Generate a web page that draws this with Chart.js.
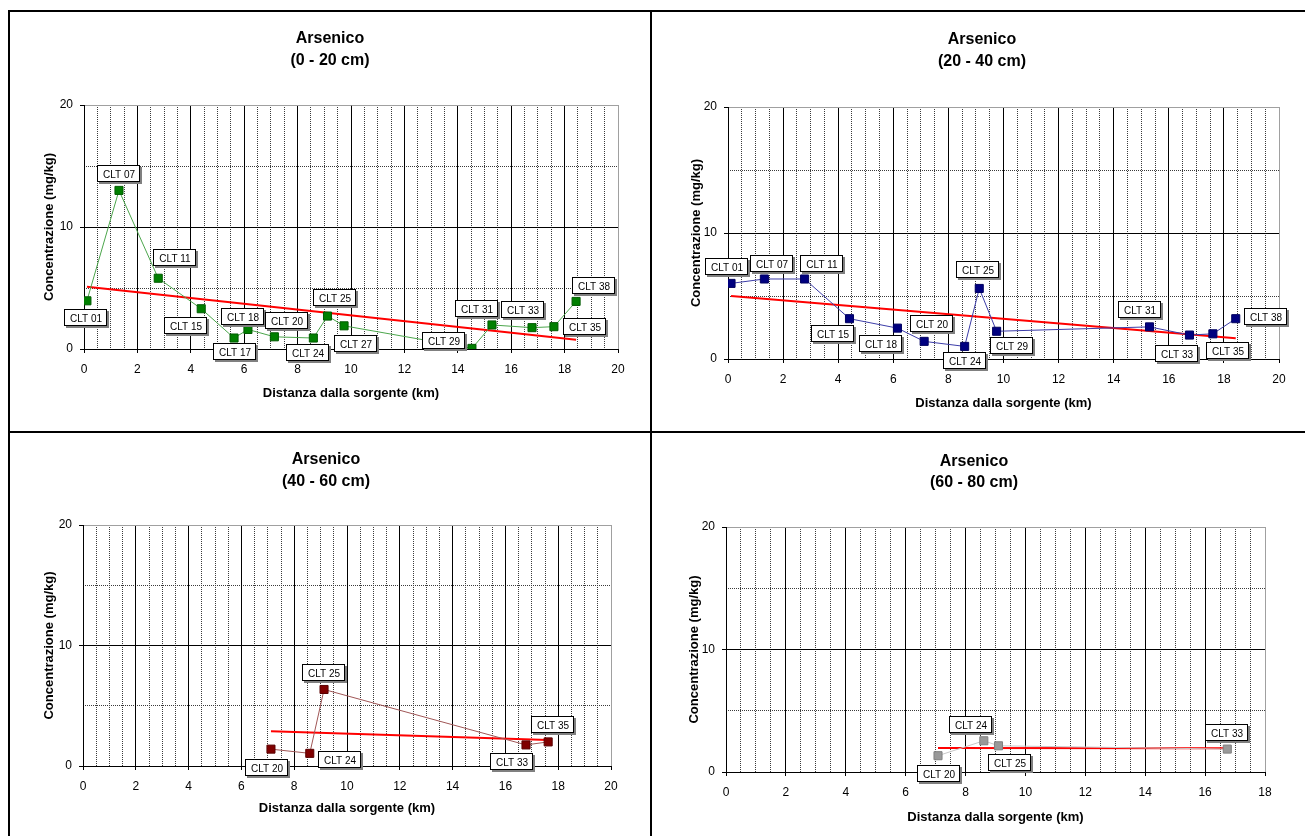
<!DOCTYPE html>
<html>
<head>
<meta charset="utf-8">
<title>Arsenico - concentrazione vs distanza</title>
<style>
  body { margin: 0; background: #fff; }
  #pagina { position: relative; width: 1305px; height: 836px; overflow: hidden; background: #fff; }
  canvas { position: absolute; }
  .riga { position: absolute; background: #000; }
</style>
</head>
<body>
<div id="pagina">
  <canvas id="c1" width="640" height="418" style="left:10px;top:12px"></canvas>
  <canvas id="c2" width="650" height="418" style="left:653px;top:12px"></canvas>
  <canvas id="c3" width="640" height="403" style="left:10px;top:433px"></canvas>
  <canvas id="c4" width="650" height="403" style="left:653px;top:433px"></canvas>
  <div class="riga" style="left:8px;top:10px;width:1297px;height:2px"></div>
  <div class="riga" style="left:8px;top:10px;width:2px;height:826px"></div>
  <div class="riga" style="left:650px;top:10px;width:2px;height:826px"></div>
  <div class="riga" style="left:8px;top:431px;width:1297px;height:2px"></div>
</div>

<script src="https://cdn.jsdelivr.net/npm/chart.js"></script>
<script>
// ---- dati ----
// 0 - 20 cm
const nomi1 = ['CLT 01', 'CLT 07', 'CLT 11', 'CLT 15', 'CLT 17', 'CLT 18', 'CLT 20', 'CLT 24', 'CLT 25', 'CLT 27', 'CLT 29', 'CLT 31', 'CLT 33', 'CLT 35', 'CLT 38'];
const dist1 = [0.11, 1.31, 2.78, 4.39, 5.62, 6.14, 7.13, 8.59, 9.12, 9.74, 14.53, 15.28, 16.78, 17.6, 18.43];
const conc1 = [3.95, 13.0, 5.8, 3.3, 0.9, 1.6, 1.0, 0.9, 2.7, 1.9, 0.05, 1.97, 1.75, 1.83, 3.9];
const trendX1 = [0.11, 18.43];
const trendY1 = [5.1, 0.75];

// 20 - 40 cm
const nomi2 = ['CLT 01', 'CLT 07', 'CLT 11', 'CLT 15', 'CLT 18', 'CLT 20', 'CLT 24', 'CLT 25', 'CLT 29', 'CLT 31', 'CLT 33', 'CLT 35', 'CLT 38'];
const dist2 = [0.11, 1.32, 2.78, 4.41, 6.15, 7.12, 8.59, 9.12, 9.75, 15.3, 16.75, 17.6, 18.43];
const conc2 = [6.0, 6.35, 6.35, 3.2, 2.45, 1.4, 1.0, 5.6, 2.2, 2.55, 1.9, 2.0, 3.2];
const trendX2 = [0.11, 18.43];
const trendY2 = [5.0, 1.64];

// 40 - 60 cm
const nomi3 = ['CLT 20', 'CLT 24', 'CLT 25', 'CLT 33', 'CLT 35'];
const dist3 = [7.12, 8.59, 9.13, 16.78, 17.62];
const conc3 = [1.4, 1.05, 6.35, 1.75, 2.0];
const trendX3 = [7.12, 17.62];
const trendY3 = [2.88, 2.15];

// 60 - 80 cm
const nomi4 = ['CLT 20', 'CLT 24', 'CLT 25', 'CLT 33'];
const dist4 = [7.08, 8.61, 9.1, 16.74];
const conc4 = [1.33, 2.55, 2.14, 1.87];
const trendX4 = [7.08, 16.74];
const trendY4 = [1.96, 1.93];

const yTicks = [0, 10, 20];

// posizione delle etichette rispetto al punto (px)
const spost1 = [[-1,17],[0,-16],[17,-20],[-15,17],[1,14],[-5,-12],[13,-16],[-5,15],[7,-18],[12,18],[-28,-7],[-15,-16],[-9,-18],[31,0],[18,-15]];
const spost2 = [[-4,-16],[8,-15],[17,-15],[-16,15],[-16,16],[8,-17],[0,15],[-1,-18],[15,15],[-10,-17],[-12,19],[15,17],[30,-2]];
const spost3 = [[-4,19],[30,7],[0,-16],[-14,17],[5,-17]];
const spost4 = [[1,18],[-13,-16],[12,17],[0,-16]];

const FONT = '"Liberation Sans", Arial, sans-serif';
Chart.defaults.font.family = FONT;
Chart.defaults.color = '#000';

// titolo su due righe
const titoli = {
    id: 'titoli',
    afterDraw(chart, args, opts) {
        const ctx = chart.ctx;
        ctx.save();
        ctx.font = 'bold 16px ' + FONT;
        ctx.fillStyle = '#000';
        ctx.textAlign = 'center';
        ctx.textBaseline = 'middle';
        ctx.fillText(opts.righe[0], opts.x, opts.y1);
        ctx.fillText(opts.righe[1], opts.x, opts.y2);
        ctx.restore();
    }
};

// etichette nei riquadri
const etichette = {
    id: 'etichette',
    afterDatasetsDraw(chart, args, opts) {
        const meta = chart.getDatasetMeta(0);
        const ctx = chart.ctx;
        ctx.save();
        ctx.font = '10px ' + FONT;
        ctx.textAlign = 'center';
        ctx.textBaseline = 'middle';
        meta.data.forEach((pt, i) => {
            const w = 43, h = 17;
            const cx = Math.round(pt.x + opts.spost[i][0]);
            const cy = Math.round(pt.y + opts.spost[i][1]);
            const x0 = cx - Math.round(w / 2), y0 = cy - Math.round(h / 2);
            ctx.fillStyle = '#808080';
            ctx.fillRect(x0 + 2, y0 + 2, w, h);
            ctx.fillStyle = '#fff';
            ctx.fillRect(x0, y0, w, h);
            ctx.strokeStyle = '#000';
            ctx.lineWidth = 1;
            ctx.strokeRect(x0 + 0.5, y0 + 0.5, w - 1, h - 1);
            ctx.fillStyle = '#000';
            ctx.fillText(opts.nomi[i], cx, cy + 1);
        });
        ctx.restore();
    }
};

function punti(xs, ys) {
    return xs.map((x, i) => ({ x: x, y: ys[i] }));
}

function grafico(id, L, nomi, xs, ys, tx, ty, spost, colori, sotto) {
    new Chart(document.getElementById(id), {
        type: 'scatter',
        data: {
            datasets: [
                {
                    data: punti(xs, ys),
                    showLine: true,
                    borderColor: colori.linea,
                    borderWidth: 1,
                    pointStyle: 'rect',
                    pointRadius: 5.7,
                    pointBackgroundColor: colori.punto,
                    pointBorderColor: colori.bordo,
                    pointBorderWidth: 1,
                    order: 0
                },
                {
                    data: punti(tx, ty),
                    showLine: true,
                    borderColor: '#ff0000',
                    borderWidth: 2,
                    pointRadius: 0,
                    order: 1
                }
            ]
        },
        options: {
            responsive: false,
            animation: false,
            events: [],
            layout: { padding: { left: 0, top: L.t, right: L.w - L.r, bottom: 0 } },
            plugins: {
                legend: { display: false },
                tooltip: { enabled: false },
                titoli: { righe: ['Arsenico', sotto], x: L.tx, y1: L.ty1, y2: L.ty2 },
                etichette: { nomi: nomi, spost: spost }
            },
            scales: {
                xMin: {
                    type: 'linear', position: 'top', min: 0, max: L.xMax,
                    ticks: { display: false, stepSize: 0.5, maxTicksLimit: 100 },
                    grid: {
                        drawTicks: false,
                        color: c => (c.tick && c.tick.value % 2 === 0) ? 'rgba(0,0,0,0)' : '#3a3a3a'
                    },
                    border: { display: false, dash: [1, 1] },
                    afterFit: s => { s.height = 0; }
                },
                yMin: {
                    type: 'linear', position: 'right', min: 0, max: 20,
                    ticks: { display: false, stepSize: 5 },
                    grid: {
                        drawTicks: false,
                        color: c => (c.tick && c.tick.value % 10 === 0) ? 'rgba(0,0,0,0)' : '#3a3a3a'
                    },
                    border: { display: false, dash: [1, 1] },
                    afterFit: s => { s.width = 0; }
                },
                x: {
                    type: 'linear', position: 'bottom', min: 0, max: L.xMax,
                    ticks: { stepSize: 2, autoSkip: false, maxRotation: 0, minRotation: 0, padding: 9, color: '#000', font: { size: 12 } },
                    grid: {
                        color: c => (c.tick && c.tick.value === L.xMax) ? '#a0a0a0' : '#000',
                        tickColor: '#000', tickLength: 4, lineWidth: 1
                    },
                    border: { color: '#000', width: 1 },
                    title: {
                        display: true, text: 'Distanza dalla sorgente (km)', color: '#000',
                        font: { size: 13, weight: 'bold' },
                        padding: { top: 0, bottom: L.h - L.xt - 7.8 }
                    },
                    afterFit: s => { s.height = L.h - L.b; }
                },
                y: {
                    type: 'linear', position: 'left', min: 0, max: 20,
                    afterBuildTicks: s => { s.ticks = yTicks.map(v => ({ value: v })); },
                    ticks: { padding: 7, color: '#000', font: { size: 12 } },
                    grid: {
                        color: c => (c.tick && c.tick.value === 20) ? '#a0a0a0' : '#000',
                        tickColor: '#000', tickLength: 4, lineWidth: 1
                    },
                    border: { color: '#000', width: 1 },
                    title: {
                        display: true, text: 'Concentrazione (mg/kg)', color: '#000',
                        font: { size: 13, weight: 'bold' },
                        padding: { top: L.yt - 7.8, bottom: 0 }
                    },
                    afterFit: s => { s.width = L.l; }
                }
            }
        },
        plugins: [titoli, etichette]
    });
}

grafico('c1',
    { w: 640, h: 418, l: 74, r: 608, t: 93, b: 337, xMax: 20, tx: 320, ty1: 27, ty2: 49, yt: 39, xt: 381 },
    nomi1, dist1, conc1, trendX1, trendY1, spost1,
    { linea: '#4ca64c', punto: '#008000', bordo: '#005a00' }, '(0 - 20 cm)');

grafico('c2',
    { w: 650, h: 418, l: 75, r: 626, t: 95, b: 347, xMax: 20, tx: 329, ty1: 28, ty2: 50, yt: 43, xt: 391 },
    nomi2, dist2, conc2, trendX2, trendY2, spost2,
    { linea: '#3c3ca8', punto: '#000080', bordo: '#000060' }, '(20 - 40 cm)');

grafico('c3',
    { w: 640, h: 403, l: 73, r: 601, t: 92, b: 333, xMax: 20, tx: 316, ty1: 27, ty2: 49, yt: 39, xt: 375 },
    nomi3, dist3, conc3, trendX3, trendY3, spost3,
    { linea: '#a05656', punto: '#800000', bordo: '#5a0000' }, '(40 - 60 cm)');

grafico('c4',
    { w: 650, h: 403, l: 73, r: 612, t: 94, b: 339, xMax: 18, tx: 321, ty1: 29, ty2: 50, yt: 41, xt: 384 },
    nomi4, dist4, conc4, trendX4, trendY4, spost4,
    { linea: '#c8c8c8', punto: '#999999', bordo: '#808080' }, '(60 - 80 cm)');
</script>
</body>
</html>
